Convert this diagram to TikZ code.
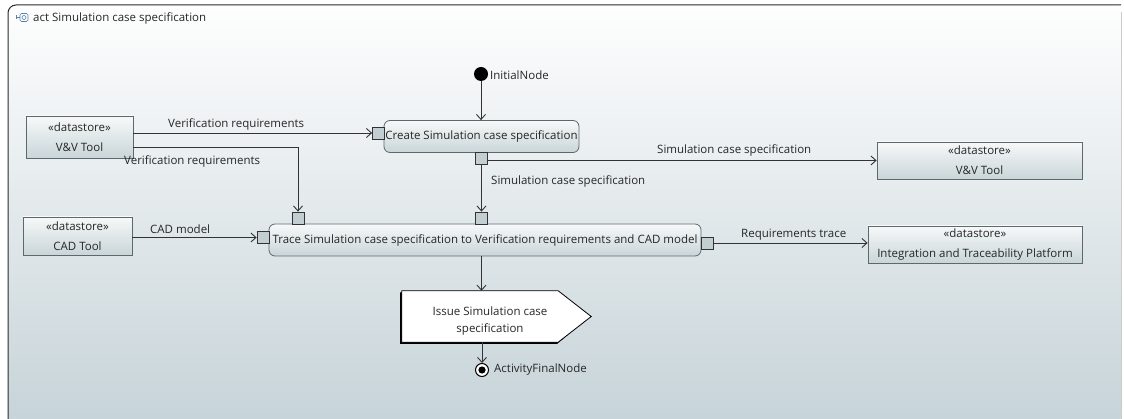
\documentclass[tikz,border=0pt]{standalone}
\usepackage{fontspec}
\setmainfont{Open Sans}
\usetikzlibrary{arrows.meta}

\definecolor{framec}{HTML}{2B2B2B}
\definecolor{bgtop}{HTML}{FEFEFE}
\definecolor{bgbot}{HTML}{C6D3D8}
\definecolor{edgec}{HTML}{333333}
\definecolor{boxline}{HTML}{5E686C}
\definecolor{boxtop}{HTML}{F7F9F9}
\definecolor{boxbot}{HTML}{C9D5D9}
\definecolor{pinfill}{HTML}{C3CED2}
\definecolor{iconc}{HTML}{5A7FA8}
\definecolor{txt}{HTML}{262626}

\newcommand{\dgfont}{\fontsize{11.5}{13}\selectfont}

\tikzset{
  action/.style={draw=boxline, line width=0.8pt, rounded corners=6pt,
    top color=boxtop, bottom color=boxbot, minimum height=32pt,
    inner sep=0pt, text=txt},
  store/.style={draw=boxline, line width=0.8pt, top color=boxtop,
    bottom color=boxbot, align=center, inner sep=0pt, text=txt,
    font=\fontsize{11.5}{20}\selectfont},
  pinbox/.style={draw=edgec, line width=0.8pt, fill=pinfill,
    minimum width=12pt, minimum height=12pt, inner sep=0pt},
  flow/.style={draw=edgec, line width=0.9pt,
    -{Straight Barb[length=5pt,width=9pt,line width=0.9pt]}},
  lbl/.style={anchor=west, inner sep=0pt, text=txt},
  sendarea/.style={minimum width=189pt, minimum height=51pt, inner sep=0pt},
  sendtext/.style={align=center, inner sep=0pt, text=txt,
    font=\fontsize{11.5}{17}\selectfont},
}

\begin{document}
\begin{tikzpicture}[x=1pt,y=-1pt,font=\dgfont]
\useasboundingbox (0,0) rectangle (1124,419);

% diagram frame with gradient background
\shade[top color=bgtop, bottom color=bgbot, rounded corners=8pt]
  (8,5) rectangle (1121,425);
\draw[gray!40, line width=0.6pt] (1121,12) -- (1121,425);
\draw[framec, line width=1pt, rounded corners=8pt] (8,425) |- (1121,5);

% frame icon and title
\draw[iconc, line width=0.6pt, rounded corners=1.5pt] (20,13.5) rectangle (28,21.5);
\draw[iconc, line width=0.6pt] (24,17.5) circle (2pt);
\draw[iconc, line width=0.6pt] (16.5,17.5) -- (20,17.5);
\draw[iconc, line width=0.6pt] (16.5,15.5) -- (16.5,19.5);
\node[lbl] (title) at (33,18) {act Simulation case specification};

% control nodes
\node[circle, fill=black, minimum size=14pt, inner sep=0pt] (init) at (481,74) {};
\node[lbl] (initlbl) at (490,75) {InitialNode};

\node[circle, draw=black, line width=1pt, fill=white, minimum size=13pt,
  inner sep=0pt, path picture={\fill[black] (path picture bounding box.center) circle (3.6pt);}]
  (final) at (482,370) {};
\node[lbl] (finallbl) at (494,370) {ActivityFinalNode};

% actions
\node[action, minimum width=195pt] (create) at (481.5,136.5) {Create Simulation case specification};
\node[action, minimum width=432pt] (trace) at (485,240)
  {Trace Simulation case specification to Verification requirements and CAD model};

% send signal action: pentagon outline with a dark offset edge
\node[sendarea] (issue) at (496.5,316.5) {};
\fill[black] ([shift={(-1.6pt,-1.6pt)}]issue.north west)
  -- ([shift={(-34pt,-1.6pt)}]issue.north east)
  -- ([shift={(-1.6pt,0pt)}]issue.east)
  -- ([shift={(-34pt,-1.6pt)}]issue.south east)
  -- ([shift={(-1.6pt,-1.6pt)}]issue.south west) -- cycle;
\draw[black, line width=0.8pt, fill=white] (issue.north west)
  -- ([xshift=-33pt]issue.north east) -- (issue.east)
  -- ([xshift=-33pt]issue.south east) -- (issue.south west) -- cycle;
\node[sendtext] (issuetext) at (490,321.5) {Issue Simulation case\\specification};

% pins
\node[pinbox] (cpinL) at (378.5,133) {};
\node[pinbox] (cpinB) at (481.5,158) {};
\node[pinbox] (tpinL) at (263,237.5) {};
\node[pinbox] (tpin1) at (298,218) {};
\node[pinbox] (tpin2) at (481.5,218) {};
\node[pinbox] (tpinR) at (707,243) {};

% datastores
\node[store, minimum width=107pt, minimum height=42pt] (vvA) at (79.5,137) {«datastore»\\V\&V Tool};
\node[store, minimum width=109pt, minimum height=38pt] (cad) at (77.5,236) {«datastore»\\CAD Tool};
\node[store, minimum width=205pt, minimum height=37pt] (vvB) at (979.5,160.5) {«datastore»\\V\&V Tool};
\node[store, minimum width=214pt, minimum height=37pt] (integ) at (975,244.5) {«datastore»\\Integration and Traceability Platform};

% object and control flows
\draw[flow] (init.south) -- (init.south |- create.north);
\draw[flow] (vvA.east |- cpinL) -- (cpinL.west);
\draw[flow] ([yshift=-10pt]vvA.east) -| (tpin1.north);
\draw[flow] (cad.east |- tpinL) -- (tpinL.west);
\draw[flow] (cpinB.south) -- (tpin2.north);
\draw[flow] (cpinB.east |- vvB.west) -- (vvB.west);
\draw[flow] (tpinR.east) -- (tpinR.east -| integ.west);
\draw[flow] (tpin2.south |- trace.south) -- (tpin2.south |- issue.north);
\draw[flow] (issue.south -| final) -- (final.north);

% flow labels
\node[lbl] (l1) at (168,124) {Verification requirements};
\node[lbl] (l2) at (124,161) {Verification requirements};
\node[lbl] (l3) at (150,229) {CAD model};
\node[lbl] (l4) at (491,181) {Simulation case specification};
\node[lbl] (l5) at (657,150) {Simulation case specification};
\node[lbl] (l6) at (741,235) {Requirements trace};
\end{tikzpicture}
\end{document}
